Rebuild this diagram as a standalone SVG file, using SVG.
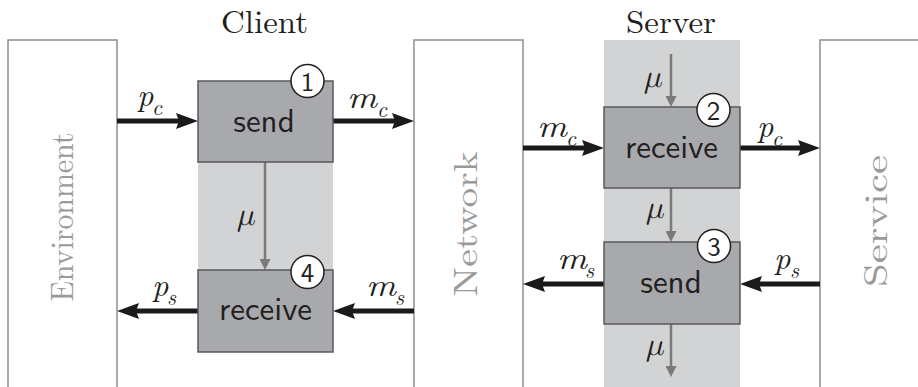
<svg xmlns="http://www.w3.org/2000/svg" width="918" height="387" viewBox="0 0 918 387">
<defs>
<style>
.frame{fill:none;stroke:#8e8e8e;stroke-width:1.5}
.band{fill:#d1d3d4}
.box{fill:#a7a9ac;stroke:#58595b;stroke-width:1.5}
.btxt{font-size:33px;fill:#231f20;text-anchor:middle}
.ftxt{font-size:33px;fill:#9a9a9a;text-anchor:middle}
.title{font-size:32.5px;fill:#231f20;text-anchor:middle}
.num{fill:#fff;stroke:#231f20;stroke-width:1.5}
.ntxt{font-size:27px;fill:#231f20;text-anchor:middle}
.math{font-style:italic;font-size:32px;fill:#231f20}
.sub{font-style:italic;font-size:22px;fill:#231f20}
.blk{stroke:#1a1a1a;stroke-width:5;fill:none}
.gry{stroke:#7a7a7a;stroke-width:2.5;fill:none}
</style>
<marker id="ab" markerUnits="userSpaceOnUse" markerWidth="22" markerHeight="16" refX="10" refY="8" orient="auto">
<path d="M0,0 L22,8 L0,16 L3,8 z" fill="#1a1a1a"/>
</marker>
<marker id="ag" markerUnits="userSpaceOnUse" markerWidth="11" markerHeight="11" refX="5" refY="5.5" orient="auto">
<path d="M0,0 L11,5.5 L0,11 z" fill="#7a7a7a"/>
</marker>
</defs>
<rect width="918" height="387" fill="#fff"/>

<rect class="band" x="198" y="162" width="135" height="108"/>
<rect class="band" x="604" y="40" width="136" height="347"/>

<g id="environment">
<path class="frame" d="M8,390 V40 H117 V390"/>
<text class="ftxt" font-family="'Latin Modern Roman', serif" transform="translate(73,217) rotate(-90)" textLength="169" lengthAdjust="spacingAndGlyphs">Environment</text>
</g>
<g id="network">
<path class="frame" d="M414,390 V40 H523 V390"/>
<text class="ftxt" font-family="'Latin Modern Roman', serif" transform="translate(477,224) rotate(-90)" textLength="145" lengthAdjust="spacingAndGlyphs">Network</text>
</g>
<g id="service">
<path class="frame" d="M820,390 V40 H925"/>
<text class="ftxt" font-family="'Latin Modern Roman', serif" transform="translate(887,221) rotate(-90)" textLength="132" lengthAdjust="spacingAndGlyphs">Service</text>
</g>

<g id="titles">
<text class="title" font-family="'Latin Modern Roman', serif" x="264.5" y="33" textLength="87" lengthAdjust="spacingAndGlyphs">Client</text>
<text class="title" font-family="'Latin Modern Roman', serif" x="671" y="33" textLength="90" lengthAdjust="spacingAndGlyphs">Server</text>
</g>

<g id="connectors">
<line class="blk" x1="117" y1="121" x2="186" y2="121" marker-end="url(#ab)"/>
<line class="blk" x1="333" y1="121" x2="402" y2="121" marker-end="url(#ab)"/>
<line class="blk" x1="198" y1="311" x2="129" y2="311" marker-end="url(#ab)"/>
<line class="blk" x1="414" y1="311" x2="345" y2="311" marker-end="url(#ab)"/>
<line class="blk" x1="523" y1="148" x2="592" y2="148" marker-end="url(#ab)"/>
<line class="blk" x1="740" y1="148" x2="808" y2="148" marker-end="url(#ab)"/>
<line class="blk" x1="604" y1="284" x2="535" y2="284" marker-end="url(#ab)"/>
<line class="blk" x1="820" y1="284" x2="752" y2="284" marker-end="url(#ab)"/>
<line class="gry" x1="265" y1="162" x2="265" y2="264" marker-end="url(#ag)"/>
<line class="gry" x1="671" y1="54" x2="671" y2="101" marker-end="url(#ag)"/>
<line class="gry" x1="671" y1="188" x2="671" y2="236" marker-end="url(#ag)"/>
<line class="gry" x1="671" y1="324" x2="671" y2="371" marker-end="url(#ag)"/>
</g>

<g id="labels" font-family="'Latin Modern Roman', serif">
<text class="math" font-family="'Latin Modern Roman', serif" x="137" y="106">p</text><text class="sub" font-family="'Latin Modern Roman', serif" x="152" y="115">c</text>
<text class="math" font-family="'Latin Modern Roman', serif" x="347" y="108" textLength="30" lengthAdjust="spacingAndGlyphs">m</text><text class="sub" font-family="'Latin Modern Roman', serif" x="377" y="117">c</text>
<text class="math" font-family="'Latin Modern Roman', serif" x="152" y="296">p</text><text class="sub" font-family="'Latin Modern Roman', serif" x="167" y="305">s</text>
<text class="math" font-family="'Latin Modern Roman', serif" x="366" y="296" textLength="30" lengthAdjust="spacingAndGlyphs">m</text><text class="sub" font-family="'Latin Modern Roman', serif" x="395" y="305">s</text>
<text class="math" font-family="'Latin Modern Roman', serif" x="537" y="137" textLength="30" lengthAdjust="spacingAndGlyphs">m</text><text class="sub" font-family="'Latin Modern Roman', serif" x="566" y="146">c</text>
<text class="math" font-family="'Latin Modern Roman', serif" x="757" y="137">p</text><text class="sub" font-family="'Latin Modern Roman', serif" x="772" y="146">c</text>
<text class="math" font-family="'Latin Modern Roman', serif" x="557" y="269" textLength="30" lengthAdjust="spacingAndGlyphs">m</text><text class="sub" font-family="'Latin Modern Roman', serif" x="585" y="278">s</text>
<text class="math" font-family="'Latin Modern Roman', serif" x="774" y="269">p</text><text class="sub" font-family="'Latin Modern Roman', serif" x="790" y="278">s</text>
<text class="math" font-family="'Latin Modern Math', serif" x="237" y="225">μ</text>
<text class="math" font-family="'Latin Modern Math', serif" x="644" y="87">μ</text>
<text class="math" font-family="'Latin Modern Math', serif" x="646" y="218">μ</text>
<text class="math" font-family="'Latin Modern Math', serif" x="646" y="355">μ</text>
</g>

<g id="client-send">
<rect class="box" x="198" y="81" width="135" height="81"/>
<text class="btxt" font-family="'Latin Modern Sans', sans-serif" x="264" y="132">send</text>
<circle class="num" cx="307.5" cy="81" r="16.5"/>
<text class="ntxt" font-family="'Latin Modern Sans', sans-serif" x="307.5" y="90.5">1</text>
</g>
<g id="client-receive">
<rect class="box" x="198" y="270" width="135" height="82"/>
<text class="btxt" font-family="'Latin Modern Sans', sans-serif" x="265.5" y="320">receive</text>
<circle class="num" cx="307.5" cy="272" r="16.5"/>
<text class="ntxt" font-family="'Latin Modern Sans', sans-serif" x="307.5" y="281.5">4</text>
</g>
<g id="server-receive">
<rect class="box" x="604" y="107" width="136" height="81"/>
<text class="btxt" font-family="'Latin Modern Sans', sans-serif" x="671.5" y="158">receive</text>
<circle class="num" cx="713.5" cy="110" r="16.5"/>
<text class="ntxt" font-family="'Latin Modern Sans', sans-serif" x="713.5" y="119.5">2</text>
</g>
<g id="server-send">
<rect class="box" x="604" y="242" width="136" height="82"/>
<text class="btxt" font-family="'Latin Modern Sans', sans-serif" x="671" y="293">send</text>
<circle class="num" cx="714" cy="246" r="16.5"/>
<text class="ntxt" font-family="'Latin Modern Sans', sans-serif" x="714" y="255.5">3</text>
</g>
</svg>
